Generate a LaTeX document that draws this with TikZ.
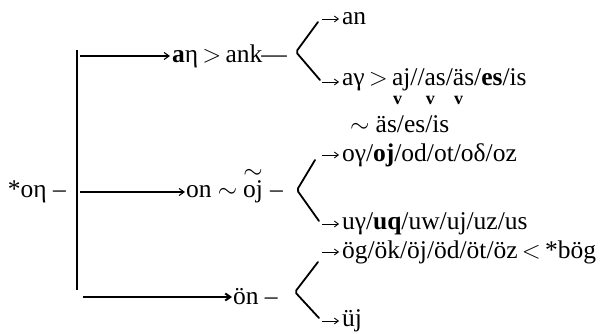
\documentclass[tikz,border=0pt]{standalone}
\usepackage{fontspec}
\setmainfont{Liberation Serif}
\usetikzlibrary{arrows.meta}
\begin{document}
\begin{tikzpicture}[x=1pt,y=-1pt,
  every node/.style={font=\fontsize{25.5}{30}\selectfont, inner sep=0pt, outer sep=0pt},
  lbl/.style={anchor=west},
  cont/.style={anchor=base west},
  vmark/.style={font=\fontsize{18}{20}\selectfont\bfseries, anchor=north},
  trunk/.style={line width=2.2pt},
  feed/.style={line width=1.1pt, -{Straight Barb[length=5pt,width=7pt]}},
  feedthick/.style={line width=2pt, -{Straight Barb[length=5pt,width=7pt]}},
  arm/.style={line width=1.8pt, line cap=round, rounded corners=2pt},
  tip/.style={line width=0.9pt, -{Straight Barb[length=4pt,width=6pt]}}]
\useasboundingbox (0,0) rectangle (600,334);

% root and trunk
\node[lbl] (root) at (8,192) {*oη –};
\coordinate (ttop) at (77,50);
\coordinate (tbot) at (77,290);
\draw[trunk] (ttop) -- (tbot);

% first stem: a-eta > ank
\node[lbl] (a1) at (172,56) {\textbf{a}η\,$>$\,ank\kern-1pt—};
\draw[feed] ([xshift=3pt]ttop |- a1.west) -- ([xshift=-2pt]a1.west);
\coordinate (v1) at (296,52);
\coordinate (u1) at (318,22);
\coordinate (d1) at (320,80);
\draw[arm] (u1) -- (v1) -- (d1);
\node[lbl] (an) at (342,19) {an};
\draw[tip] ([xshift=-20pt]an.west) -- ([xshift=-3pt]an.west);
% a-gamma line, split so that the vowel marks can sit under their letters
\node[lbl] (ay) at (342,82) {aγ\,$>$\,};
\node[cont] (aa) at (ay.base east) {a};
\node[cont] (ab) at (aa.base east) {j//};
\node[cont] (ac) at (ab.base east) {a};
\node[cont] (ad) at (ac.base east) {s/};
\node[cont] (ae) at (ad.base east) {ä};
\node[cont] (af) at (ae.base east) {s/\textbf{es}/is};
\draw[tip] ([xshift=-20pt]ay.west) -- ([xshift=-3pt]ay.west);
\node[vmark] (m1) at ([yshift=-10pt]aa.base) {v};
\node[vmark] (m2) at ([yshift=-10pt]ac.base) {v};
\node[vmark] (m3) at ([yshift=-10pt]ae.base) {v};
\node[lbl] (alt) at (350,124) {$\sim$ äs/es/is};

% second stem: on ~ oj
\node[lbl] (o1) at (186,192) {on $\sim$};
\node[cont] (oj) at ([xshift=6pt]o1.base east) {oj};
\node[cont] (o2) at ([xshift=7pt]oj.base east) {–};
\node[anchor=south] (tl) at ([yshift=2pt]oj.north) {$\sim$};
\draw[feed] ([xshift=3pt]ttop |- o1.west) -- ([xshift=-1pt]o1.west);
\coordinate (v2) at (297,190);
\coordinate (u2) at (315,160);
\coordinate (d2) at (319,221);
\draw[arm] (u2) -- (v2) -- (d2);
\node[lbl] (og) at (342,155) {oγ/\textbf{oj}/od/ot/oδ/oz};
\node[lbl] (ug) at (342,224) {uγ/\textbf{uq}/uw/uj/uz/us};
\draw[tip] ([xshift=-20pt]og.west) -- ([xshift=-3pt]og.west);
\draw[tip] ([xshift=-20pt]ug.west) -- ([xshift=-3pt]ug.west);

% third stem: oen
\node[lbl] (on) at (233,297) {ön –};
\draw[feedthick] ([xshift=6pt]tbot |- on.west) -- ([xshift=-1pt]on.west);
\coordinate (v3) at (295,292);
\coordinate (u3) at (318,262);
\coordinate (d3) at (319,318);
\draw[arm] (u3) -- (v3) -- (d3);
\node[lbl] (og2) at (342,252) {ög/ök/öj/öd/öt/öz\,$<$\,*bög};
\node[lbl] (uj) at (342,321) {üj};
\draw[tip] ([xshift=-20pt]og2.west) -- ([xshift=-3pt]og2.west);
\draw[tip] ([xshift=-20pt]uj.west) -- ([xshift=-3pt]uj.west);
\end{tikzpicture}
\end{document}
